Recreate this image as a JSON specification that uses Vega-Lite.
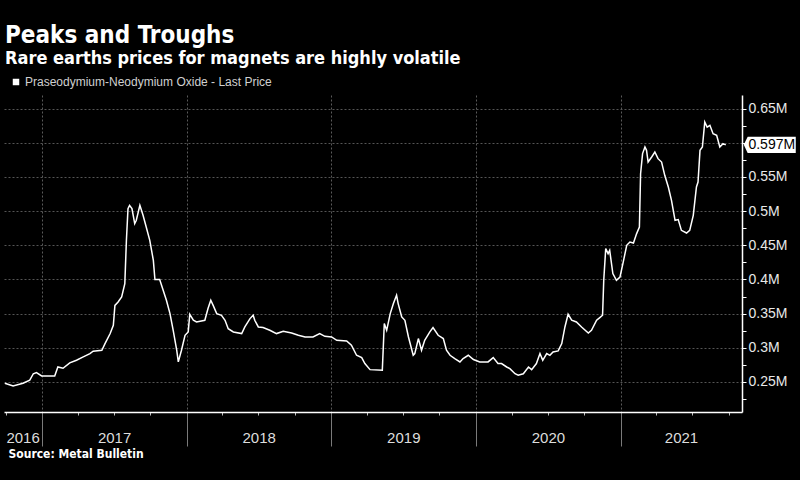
{
  "$schema": "https://vega.github.io/schema/vega-lite/v6.json",
  "autosize": {"type": "none"},
  "padding": {"left": 4, "top": 95, "right": 58, "bottom": 68},
  "width": 738,
  "height": 317,
  "background": "#000000",
  "config": {"view": {"stroke": null}},
  "title": {
    "text": "Peaks and Troughs",
    "subtitle": "Rare earths prices for magnets are highly volatile",
    "anchor": "start",
    "frame": "group",
    "offset": 8,
    "dx": 1,
    "color": "#ffffff",
    "subtitleColor": "#ffffff",
    "font": "DejaVu Sans Condensed, DejaVu Sans",
    "subtitleFont": "DejaVu Sans Condensed, DejaVu Sans",
    "fontSize": 24,
    "subtitleFontSize": 18,
    "fontWeight": "bold",
    "subtitleFontWeight": "bold",
    "subtitlePadding": 2
  },
  "datasets": {
    "price": [
      {"date": "2016-09-29", "price": 248000},
      {"date": "2016-10-20", "price": 244000},
      {"date": "2016-11-14", "price": 248000},
      {"date": "2016-12-01", "price": 252500},
      {"date": "2016-12-10", "price": 262000},
      {"date": "2016-12-18", "price": 263700},
      {"date": "2016-12-31", "price": 258800},
      {"date": "2017-02-02", "price": 258800},
      {"date": "2017-02-10", "price": 272000},
      {"date": "2017-02-23", "price": 270000},
      {"date": "2017-03-12", "price": 278000},
      {"date": "2017-03-29", "price": 281700},
      {"date": "2017-04-15", "price": 286600},
      {"date": "2017-05-02", "price": 291500},
      {"date": "2017-05-10", "price": 295000},
      {"date": "2017-06-01", "price": 296400},
      {"date": "2017-06-09", "price": 306000},
      {"date": "2017-06-22", "price": 320800},
      {"date": "2017-06-30", "price": 333000},
      {"date": "2017-07-04", "price": 362000},
      {"date": "2017-07-12", "price": 367000},
      {"date": "2017-07-21", "price": 374500},
      {"date": "2017-07-29", "price": 394000},
      {"date": "2017-08-02", "price": 457000},
      {"date": "2017-08-06", "price": 503700},
      {"date": "2017-08-10", "price": 508500},
      {"date": "2017-08-16", "price": 503700},
      {"date": "2017-08-23", "price": 481700},
      {"date": "2017-08-27", "price": 486600},
      {"date": "2017-09-05", "price": 508500},
      {"date": "2017-09-13", "price": 493900},
      {"date": "2017-09-21", "price": 476800},
      {"date": "2017-09-30", "price": 457300},
      {"date": "2017-10-09", "price": 428000},
      {"date": "2017-10-13", "price": 399800},
      {"date": "2017-10-25", "price": 399800},
      {"date": "2017-11-03", "price": 384000},
      {"date": "2017-11-11", "price": 369500},
      {"date": "2017-11-20", "price": 350000},
      {"date": "2017-11-28", "price": 325700},
      {"date": "2017-12-07", "price": 296400},
      {"date": "2017-12-11", "price": 279300},
      {"date": "2017-12-19", "price": 296400},
      {"date": "2017-12-28", "price": 318300},
      {"date": "2018-01-05", "price": 323200},
      {"date": "2018-01-09", "price": 349000},
      {"date": "2018-01-18", "price": 340300},
      {"date": "2018-01-26", "price": 337800},
      {"date": "2018-02-16", "price": 340300},
      {"date": "2018-02-24", "price": 357400},
      {"date": "2018-03-03", "price": 369500},
      {"date": "2018-03-09", "price": 362000},
      {"date": "2018-03-18", "price": 350000},
      {"date": "2018-03-30", "price": 347600},
      {"date": "2018-04-08", "price": 340300},
      {"date": "2018-04-16", "price": 328000},
      {"date": "2018-04-29", "price": 323200},
      {"date": "2018-05-20", "price": 320800},
      {"date": "2018-05-28", "price": 330500},
      {"date": "2018-06-10", "price": 342700},
      {"date": "2018-06-18", "price": 347600},
      {"date": "2018-06-22", "price": 340300},
      {"date": "2018-07-01", "price": 330500},
      {"date": "2018-07-13", "price": 329600},
      {"date": "2018-07-30", "price": 325600},
      {"date": "2018-08-16", "price": 320800},
      {"date": "2018-09-02", "price": 324200},
      {"date": "2018-09-23", "price": 321700},
      {"date": "2018-10-10", "price": 318300},
      {"date": "2018-10-27", "price": 315800},
      {"date": "2018-11-16", "price": 315800},
      {"date": "2018-12-03", "price": 320800},
      {"date": "2018-12-16", "price": 316800},
      {"date": "2019-01-02", "price": 315800},
      {"date": "2019-01-15", "price": 311000},
      {"date": "2019-02-09", "price": 310000},
      {"date": "2019-02-21", "price": 303700},
      {"date": "2019-03-06", "price": 289000},
      {"date": "2019-03-19", "price": 285600},
      {"date": "2019-03-27", "price": 276900},
      {"date": "2019-04-09", "price": 268000},
      {"date": "2019-05-10", "price": 267000},
      {"date": "2019-05-15", "price": 335400},
      {"date": "2019-05-21", "price": 325600},
      {"date": "2019-05-30", "price": 350000},
      {"date": "2019-06-07", "price": 364700},
      {"date": "2019-06-15", "price": 376800},
      {"date": "2019-06-19", "price": 364700},
      {"date": "2019-06-28", "price": 345100},
      {"date": "2019-07-06", "price": 340300},
      {"date": "2019-07-15", "price": 315800},
      {"date": "2019-07-27", "price": 289000},
      {"date": "2019-07-31", "price": 291500},
      {"date": "2019-08-09", "price": 313500},
      {"date": "2019-08-17", "price": 296400},
      {"date": "2019-08-25", "price": 311000},
      {"date": "2019-09-07", "price": 323200},
      {"date": "2019-09-15", "price": 329600},
      {"date": "2019-09-28", "price": 318300},
      {"date": "2019-10-11", "price": 313500},
      {"date": "2019-10-19", "price": 296400},
      {"date": "2019-10-28", "price": 289000},
      {"date": "2019-11-09", "price": 284200},
      {"date": "2019-11-22", "price": 279300},
      {"date": "2019-11-30", "price": 284200},
      {"date": "2019-12-13", "price": 289000},
      {"date": "2019-12-26", "price": 282800},
      {"date": "2020-01-11", "price": 279300},
      {"date": "2020-02-01", "price": 279300},
      {"date": "2020-02-14", "price": 285600},
      {"date": "2020-02-26", "price": 276900},
      {"date": "2020-03-06", "price": 276900},
      {"date": "2020-03-19", "price": 271900},
      {"date": "2020-03-27", "price": 269500},
      {"date": "2020-04-09", "price": 262000},
      {"date": "2020-04-17", "price": 259800},
      {"date": "2020-04-30", "price": 262000},
      {"date": "2020-05-13", "price": 271900},
      {"date": "2020-05-21", "price": 268000},
      {"date": "2020-06-02", "price": 276900},
      {"date": "2020-06-11", "price": 291500},
      {"date": "2020-06-18", "price": 281700},
      {"date": "2020-06-28", "price": 291500},
      {"date": "2020-07-06", "price": 289000},
      {"date": "2020-07-14", "price": 293900},
      {"date": "2020-07-27", "price": 295400},
      {"date": "2020-08-05", "price": 306100},
      {"date": "2020-08-13", "price": 330500},
      {"date": "2020-08-21", "price": 349000},
      {"date": "2020-08-30", "price": 340300},
      {"date": "2020-09-11", "price": 337800},
      {"date": "2020-09-24", "price": 330500},
      {"date": "2020-10-11", "price": 321700},
      {"date": "2020-10-19", "price": 325600},
      {"date": "2020-11-01", "price": 340300},
      {"date": "2020-11-09", "price": 344200},
      {"date": "2020-11-16", "price": 347600},
      {"date": "2020-11-19", "price": 398800},
      {"date": "2020-11-24", "price": 445200},
      {"date": "2020-11-30", "price": 437800},
      {"date": "2020-12-04", "price": 442700},
      {"date": "2020-12-12", "price": 408600},
      {"date": "2020-12-21", "price": 398800},
      {"date": "2020-12-30", "price": 403600},
      {"date": "2021-01-07", "price": 425000},
      {"date": "2021-01-16", "price": 450000},
      {"date": "2021-01-24", "price": 454800},
      {"date": "2021-02-02", "price": 453400},
      {"date": "2021-02-10", "price": 467100},
      {"date": "2021-02-17", "price": 476800},
      {"date": "2021-02-20", "price": 554700},
      {"date": "2021-02-25", "price": 584200},
      {"date": "2021-03-03", "price": 593900},
      {"date": "2021-03-07", "price": 589000},
      {"date": "2021-03-11", "price": 571900},
      {"date": "2021-03-20", "price": 579300},
      {"date": "2021-03-28", "price": 586600},
      {"date": "2021-04-05", "price": 576800},
      {"date": "2021-04-14", "price": 571900},
      {"date": "2021-04-22", "price": 552400},
      {"date": "2021-05-01", "price": 535300},
      {"date": "2021-05-09", "price": 515800},
      {"date": "2021-05-18", "price": 486600},
      {"date": "2021-05-26", "price": 487600},
      {"date": "2021-06-03", "price": 471900},
      {"date": "2021-06-16", "price": 468000},
      {"date": "2021-06-24", "price": 471900},
      {"date": "2021-07-03", "price": 493900},
      {"date": "2021-07-11", "price": 535300},
      {"date": "2021-07-15", "price": 542600},
      {"date": "2021-07-20", "price": 589000},
      {"date": "2021-07-26", "price": 593900},
      {"date": "2021-08-01", "price": 630400},
      {"date": "2021-08-07", "price": 623000},
      {"date": "2021-08-14", "price": 625600},
      {"date": "2021-08-22", "price": 613400},
      {"date": "2021-08-31", "price": 610900},
      {"date": "2021-09-08", "price": 593900},
      {"date": "2021-09-16", "price": 598800},
      {"date": "2021-09-23", "price": 597000}
    ],
    "last": [
      {"date": "2021-09-23", "price": 597000, "label": "0.597M"}
    ]
  },
  "layer": [
    {
      "data": {"name": "price"},
      "mark": {"type": "line", "color": "#ffffff", "strokeWidth": 1.5},
      "encoding": {
        "x": {
          "field": "date",
          "type": "temporal",
          "scale": {
            "type": "utc",
            "domain": [
              {"year": 2016, "month": 9, "date": 27, "utc": true},
              {"year": 2021, "month": 11, "date": 3, "utc": true}
            ]
          },
          "axis": {
            "orient": "bottom",
            "values": [
              {"year": 2016, "month": 10, "date": 1, "utc": true},
              {"year": 2017, "month": 1, "date": 1, "utc": true},
              {"year": 2017, "month": 4, "date": 1, "utc": true},
              {"year": 2017, "month": 7, "date": 1, "utc": true},
              {"year": 2017, "month": 10, "date": 1, "utc": true},
              {"year": 2018, "month": 1, "date": 1, "utc": true},
              {"year": 2018, "month": 4, "date": 1, "utc": true},
              {"year": 2018, "month": 7, "date": 1, "utc": true},
              {"year": 2018, "month": 10, "date": 1, "utc": true},
              {"year": 2019, "month": 1, "date": 1, "utc": true},
              {"year": 2019, "month": 4, "date": 1, "utc": true},
              {"year": 2019, "month": 7, "date": 1, "utc": true},
              {"year": 2019, "month": 10, "date": 1, "utc": true},
              {"year": 2020, "month": 1, "date": 1, "utc": true},
              {"year": 2020, "month": 4, "date": 1, "utc": true},
              {"year": 2020, "month": 7, "date": 1, "utc": true},
              {"year": 2020, "month": 10, "date": 1, "utc": true},
              {"year": 2021, "month": 1, "date": 1, "utc": true},
              {"year": 2021, "month": 4, "date": 1, "utc": true},
              {"year": 2021, "month": 7, "date": 1, "utc": true},
              {"year": 2021, "month": 10, "date": 1, "utc": true}
            ],
            "labels": false,
            "title": null,
            "domain": true,
            "domainColor": "#ffffff",
            "domainWidth": 1.5,
            "ticks": true,
            "tickSize": {"condition": {"test": "utcmonth(datum.value) == 0", "value": 34}, "value": 3},
            "tickColor": {"condition": {"test": "utcmonth(datum.value) == 0", "value": "#7a7a7a"}, "value": "#bbbbbb"},
            "tickWidth": 1,
            "grid": true,
            "gridColor": "#5a5a5a",
            "gridDash": [2, 2],
            "gridWidth": 1,
            "gridOpacity": {"condition": {"test": "utcmonth(datum.value) == 0", "value": 1}, "value": 0}
          }
        },
        "y": {
          "field": "price",
          "type": "quantitative",
          "scale": {"domain": [206000, 670000], "nice": false, "zero": false},
          "axis": {
            "orient": "right",
            "values": [225000, 250000, 275000, 300000, 325000, 350000, 375000, 400000, 425000, 450000, 475000, 500000, 525000, 550000, 575000, 600000, 625000, 650000],
            "labelExpr": "(datum.value % 50000 == 0 && datum.value != 600000) ? format(datum.value / 1000000, '.2~f') + 'M' : ''",
            "title": null,
            "domainColor": "#ffffff",
            "domainWidth": 1.5,
            "tickColor": "#ffffff",
            "tickSize": 4,
            "labelPadding": 2,
            "labelColor": "#e8e8e8",
            "labelFont": "Liberation Sans",
            "labelFontSize": 14,
            "labelOverlap": false,
            "labelBaseline": "middle",
            "grid": true,
            "gridColor": "#555555",
            "gridDash": [2, 2],
            "gridWidth": 1,
            "gridOpacity": {"condition": {"test": "datum.value % 50000 == 0", "value": 1}, "value": 0}
          }
        },
        "color": {
          "datum": "Praseodymium-Neodymium Oxide - Last Price",
          "type": "nominal",
          "scale": {"range": ["#ffffff"]},
          "legend": {
            "orient": "none",
            "legendX": 6,
            "legendY": -19,
            "title": null,
            "padding": 0,
            "symbolType": "square",
            "symbolSize": 42,
            "symbolFillColor": "#ffffff",
            "symbolStrokeColor": "#ffffff",
            "symbolStrokeWidth": 0,
            "labelColor": "#d0d0d0",
            "labelFont": "Liberation Sans",
            "labelFontSize": 12,
            "labelLimit": 500,
            "labelOffset": 3
          }
        }
      }
    },
    {
      "data": {"name": "price"},
      "mark": {"type": "line", "opacity": 0},
      "encoding": {
        "x": {
          "field": "date",
          "type": "temporal",
          "axis": {
            "orient": "bottom",
            "values": [
              {"year": 2016, "month": 11, "date": 13, "utc": true},
              {"year": 2017, "month": 7, "date": 2, "utc": true},
              {"year": 2018, "month": 7, "date": 2, "utc": true},
              {"year": 2019, "month": 7, "date": 2, "utc": true},
              {"year": 2020, "month": 7, "date": 1, "utc": true},
              {"year": 2021, "month": 6, "date": 2, "utc": true}
            ],
            "format": "%Y",
            "ticks": false,
            "domain": false,
            "grid": false,
            "labelColor": "#dddddd",
            "labelFont": "Liberation Sans",
            "labelFontSize": 15,
            "labelPadding": 18,
            "labelFlush": false,
            "labelOverlap": false,
            "title": "Source: Metal Bulletin",
            "titleAnchor": "start",
            "titleAlign": "left",
            "titleX": 4,
            "titleColor": "#ffffff",
            "titleFont": "DejaVu Sans Condensed, DejaVu Sans",
            "titleFontWeight": "bold",
            "titleFontSize": 12,
            "titlePadding": 3
          }
        },
        "y": {"field": "price", "type": "quantitative", "axis": null}
      }
    },
    {
      "data": {"name": "last"},
      "mark": {
        "type": "point",
        "shape": "M -1 0 L -0.85 -0.31 L 1 -0.31 L 1 0.31 L -0.85 0.31 Z",
        "size": 2704,
        "filled": true,
        "color": "#ffffff",
        "opacity": 1,
        "xOffset": 44,
        "clip": false
      },
      "encoding": {
        "x": {"field": "date", "type": "temporal", "axis": null},
        "y": {"field": "price", "type": "quantitative", "axis": null}
      }
    },
    {
      "data": {"name": "last"},
      "mark": {
        "type": "text",
        "color": "#000000",
        "font": "Liberation Sans",
        "fontSize": 14,
        "align": "center",
        "baseline": "middle",
        "xOffset": 46,
        "clip": false
      },
      "encoding": {
        "x": {"field": "date", "type": "temporal", "axis": null},
        "y": {"field": "price", "type": "quantitative", "axis": null},
        "text": {"field": "label"}
      }
    }
  ],
  "resolve": {"axis": {"x": "independent", "y": "independent"}}
}
